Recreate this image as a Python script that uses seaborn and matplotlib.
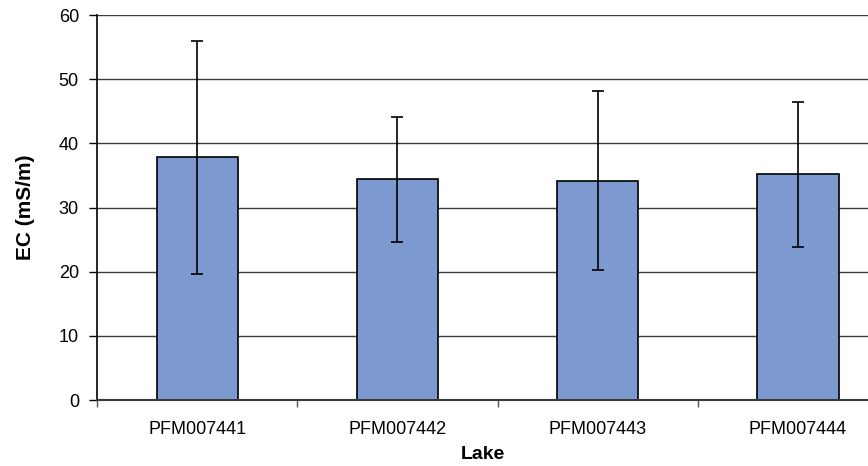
import matplotlib
matplotlib.use("Agg")
import matplotlib.pyplot as plt
import seaborn as sns
import pandas as pd
import numpy as np
from matplotlib.ticker import FixedLocator, NullFormatter

# Mean electrical conductivity per lake with error ranges
lakes = ["PFM007441", "PFM007442", "PFM007443", "PFM007444"]
ec_mean = [37.8, 34.4, 34.2, 35.2]
ec_err = [18.1, 9.7, 14.0, 11.3]
y_ticks = [0, 10, 20, 30, 40, 50, 60]

sns.set_theme(style="white")
plt.rcParams["font.family"] = ["Liberation Sans", "DejaVu Sans"]
plt.rcParams["text.color"] = "black"
plt.rcParams["axes.labelcolor"] = "black"
plt.rcParams["xtick.color"] = "black"
plt.rcParams["ytick.color"] = "black"

df = pd.DataFrame({"Lake": lakes, "EC": ec_mean})

fig = plt.figure(figsize=(8.68, 4.66), dpi=100)
ax = fig.add_axes([0.1117, 0.1416, 0.8883, 0.8262])

# grid lines behind the bars
ax.set_axisbelow(True)
ax.yaxis.grid(True, color="#3a3a3a", linewidth=1.0)

sns.barplot(data=df, x="Lake", y="EC", color="#7D9AD0", saturation=1,
            width=0.405, edgecolor="black", linewidth=1.2, errorbar=None, ax=ax)

x_pos = np.arange(len(lakes))
ax.errorbar(x_pos, ec_mean, yerr=ec_err, fmt="none", ecolor="black",
            elinewidth=1.2, capsize=4.3, capthick=1.2, zorder=5)

ax.set_ylim(0, 60)
ax.set_xlim(-0.5, -0.5 + 771 / 200.3)
ax.set_yticks(y_ticks)
ax.tick_params(axis="y", which="major", length=6, width=1, color="black",
               labelsize=13, pad=7, left=True, labelcolor="black")

# labels sit under each bar, tick marks sit on category boundaries
ax.xaxis.set_major_locator(FixedLocator([-0.5, 0.5, 1.5, 2.5]))
ax.xaxis.set_major_formatter(NullFormatter())
ax.xaxis.set_minor_locator(FixedLocator(x_pos))
ax.set_xticklabels(lakes, minor=True)
ax.tick_params(axis="x", which="major", length=5, width=1, color="#555555",
               bottom=True)
ax.tick_params(axis="x", which="minor", length=0, labelsize=13, pad=15,
               labelcolor="black")

for side in ["top", "right"]:
    ax.spines[side].set_visible(False)
ax.spines["left"].set_color("black")
ax.spines["left"].set_linewidth(1.2)
ax.spines["bottom"].set_color("#3a3a3a")
ax.spines["bottom"].set_linewidth(1.5)

ax.set_xlabel("Lake", fontsize=14, fontweight="bold", labelpad=6, color="black")
ax.set_ylabel("EC (mS/m)", fontsize=15, fontweight="bold", labelpad=17,
              color="black")

fig.savefig("out.png", dpi=100)
